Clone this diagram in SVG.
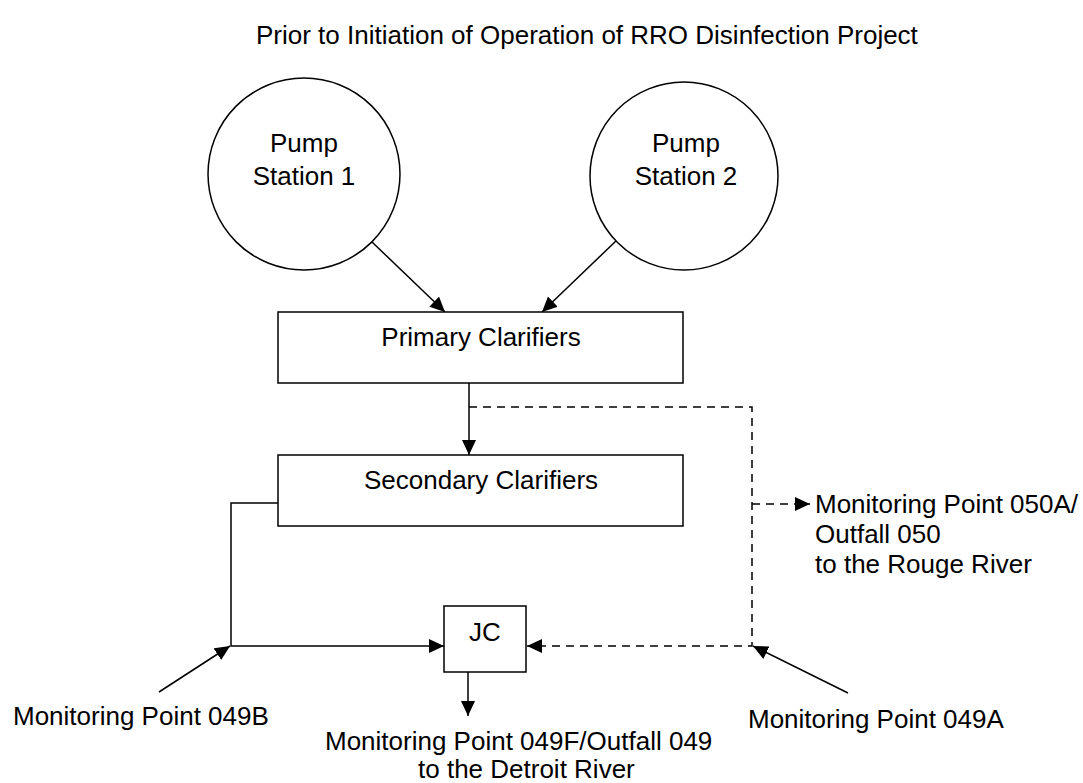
<svg xmlns="http://www.w3.org/2000/svg" width="1083" height="783" viewBox="0 0 1083 783">
  <style>
    text { font-family: "Liberation Sans", Arial, sans-serif; font-size: 26px; fill: #000; }
    .c { text-anchor: middle; }
    .shape { fill: #fff; stroke: #000; stroke-width: 1.5; }
    .ln { fill: none; stroke: #000; stroke-width: 1.5; }
    .dash { fill: none; stroke: #000; stroke-width: 1.5; stroke-dasharray: 8 6; }
  </style>
  <defs>
    <marker id="ah" markerUnits="userSpaceOnUse" markerWidth="16" markerHeight="16" refX="15" refY="7" orient="auto">
      <path d="M0,0 L15,7 L0,14 z" fill="#000"/>
    </marker>
  </defs>
  <rect width="1083" height="783" fill="#fff"/>

  <text id="title" x="256" y="44">Prior to Initiation of Operation of RRO Disinfection Project</text>

  <g id="connectors">
    <line class="ln" x1="372" y1="242" x2="445" y2="312" marker-end="url(#ah)"/>
    <line class="ln" x1="617" y1="240" x2="542" y2="312" marker-end="url(#ah)"/>
    <line class="ln" x1="469" y1="383" x2="469" y2="455" marker-end="url(#ah)"/>
    <polyline class="dash" points="469,407 752,407 752,646 527,646" marker-end="url(#ah)"/>
    <line class="dash" x1="752" y1="504" x2="810" y2="504" marker-end="url(#ah)"/>
    <polyline class="ln" points="278,503 231,503 231,646 444,646" marker-end="url(#ah)"/>
    <line class="ln" x1="468" y1="672" x2="468" y2="716" marker-end="url(#ah)"/>
    <line class="ln" x1="159" y1="692" x2="230" y2="646" marker-end="url(#ah)"/>
    <line class="ln" x1="848" y1="693" x2="753" y2="646" marker-end="url(#ah)"/>
  </g>

  <g id="pump1">
    <circle class="shape" cx="304" cy="174" r="96"/>
    <text class="c" x="304" y="152">Pump</text>
    <text class="c" x="304" y="185">Station 1</text>
  </g>
  <g id="pump2">
    <circle class="shape" cx="684" cy="176" r="94"/>
    <text class="c" x="686" y="152">Pump</text>
    <text class="c" x="686" y="185">Station 2</text>
  </g>
  <g id="primary">
    <rect class="shape" x="278" y="312" width="405" height="71"/>
    <text class="c" x="481" y="346">Primary Clarifiers</text>
  </g>
  <g id="secondary">
    <rect class="shape" x="278" y="455" width="405" height="71"/>
    <text class="c" x="481" y="489">Secondary Clarifiers</text>
  </g>
  <g id="jc">
    <rect class="shape" x="444" y="606" width="82" height="66"/>
    <text class="c" x="485" y="641">JC</text>
  </g>
  <g id="mp050a">
    <text x="815" y="513">Monitoring Point 050A/</text>
    <text x="815" y="543">Outfall 050</text>
    <text x="815" y="573">to the Rouge River</text>
  </g>
  <g id="mp049b">
    <text x="13" y="725">Monitoring Point 049B</text>
  </g>
  <g id="mp049a">
    <text x="748" y="728">Monitoring Point 049A</text>
  </g>
  <g id="mp049f">
    <text x="325" y="750">Monitoring Point 049F/Outfall 049</text>
    <text x="418" y="778">to the Detroit River</text>
  </g>
</svg>
